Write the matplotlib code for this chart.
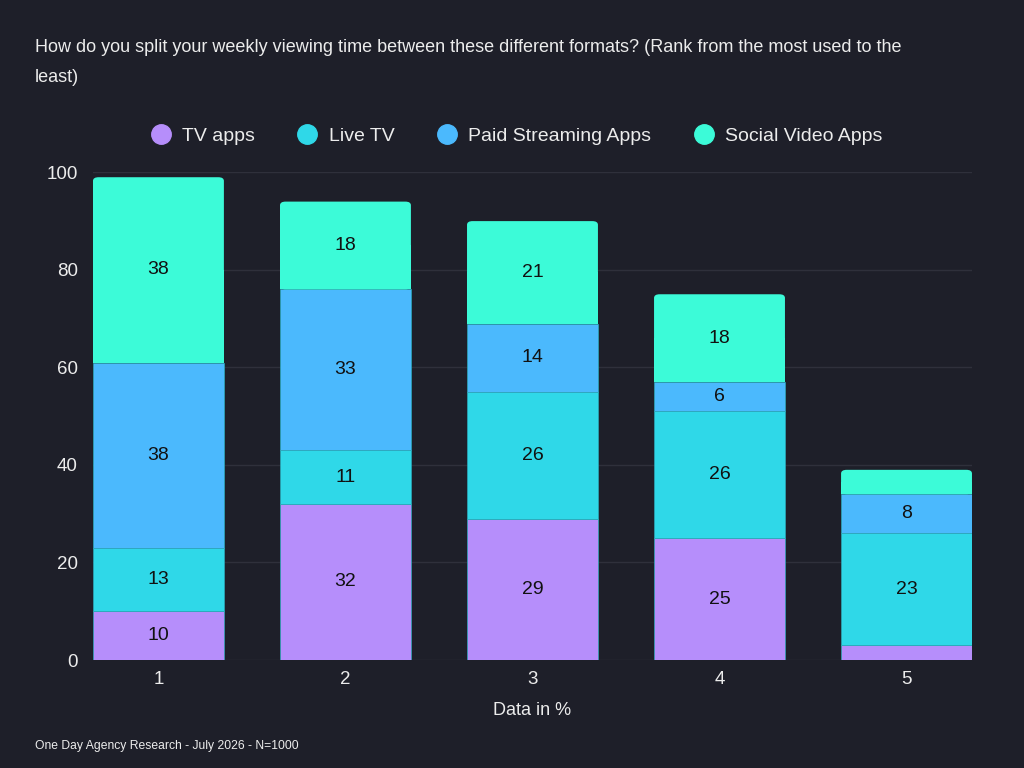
import numpy as np
import matplotlib.pyplot as plt
from matplotlib.patches import FancyBboxPatch, Rectangle

plt.rcParams['font.family'] = ['Liberation Sans', 'DejaVu Sans']

# data
ranks = ["1", "2", "3", "4", "5"]
series_names = ["TV apps", "Live TV", "Paid Streaming Apps", "Social Video Apps"]
tv_apps = [10, 32, 29, 25, 3]
live_tv = [13, 11, 26, 26, 23]
paid_streaming = [38, 33, 14, 6, 8]
social_video = [38, 18, 21, 18, 5]
yticks = [0, 20, 40, 60, 80, 100]

COLORS = ["#b68efb", "#2fd8e8", "#4bb9fd", "#3cfbd8"]
BG = "#1e1f29"
GRID = "#2f303b"
TEXT = "#ececec"

series = [tv_apps, live_tv, paid_streaming, social_video]
x = np.arange(1, len(ranks) + 1)
width = 0.70

fig = plt.figure(figsize=(10.24, 7.68), dpi=100)
fig.patch.set_facecolor(BG)
ax = fig.add_axes([0.0908, 0.1406, 0.8584, 0.635])
ax.set_facecolor(BG)

bottom = np.zeros(len(x))
for i, (vals, col) in enumerate(zip(series, COLORS)):
    vals = np.array(vals, dtype=float)
    is_top = i == len(series) - 1
    if not is_top:
        ax.bar(x, vals, width, bottom=bottom, color=col, edgecolor="#2aa8b8",
               linewidth=0.5, zorder=3)
    else:
        # top segment gets slightly rounded upper corners
        for xi, b, v in zip(x, bottom, vals):
            ax.add_patch(FancyBboxPatch((xi - width / 2, b), width, v,
                                        boxstyle="round,pad=0,rounding_size=0.03",
                                        mutation_aspect=25, facecolor=col,
                                        edgecolor="none", zorder=3))
            ax.add_patch(Rectangle((xi - width / 2, b), width, v / 2,
                                   facecolor=col, edgecolor="none", zorder=3))
    for xi, b, v in zip(x, bottom, vals):
        if v >= 6:
            ax.text(xi, b + v / 2, f"{v:.0f}", ha="center", va="center",
                    fontsize=14, color="#111111", zorder=4)
    bottom += vals

ax.set_xlim(0.65, 5.35)
ax.set_ylim(0, 100)
ax.set_yticks(yticks)
ax.set_xticks(x)
ax.set_xticklabels(ranks)
ax.tick_params(colors=TEXT, labelsize=13.5, length=0)
ax.tick_params(axis="y", pad=11)
ax.tick_params(axis="x", pad=8)
ax.grid(axis="y", color=GRID, linewidth=1, zorder=0)
for s in ax.spines.values():
    s.set_visible(False)
ax.set_xlabel("Data in %", color=TEXT, fontsize=13, labelpad=10)

fig.text(0.034, 0.938, "How do you split your weekly viewing time between these different formats? (Rank from the most used to the",
         color=TEXT, fontsize=13, va="center")
fig.text(0.034, 0.899, "least)", color=TEXT, fontsize=13, va="center")
fig.text(0.034, 0.029, "One Day Agency Research - July 2026 - N=1000",
         color=TEXT, fontsize=8.7, va="center")

handles = [plt.Line2D([], [], marker="o", linestyle="none", markersize=14,
                      markerfacecolor=c, markeredgecolor=c) for c in COLORS]
leg = fig.legend(handles, series_names, loc="center", bbox_to_anchor=(0.5, 0.823),
                 ncol=4, frameon=False, fontsize=14, handletextpad=0.1,
                 columnspacing=1.7)
for t in leg.get_texts():
    t.set_color(TEXT)

fig.savefig("out.png", dpi=100, facecolor=BG)
